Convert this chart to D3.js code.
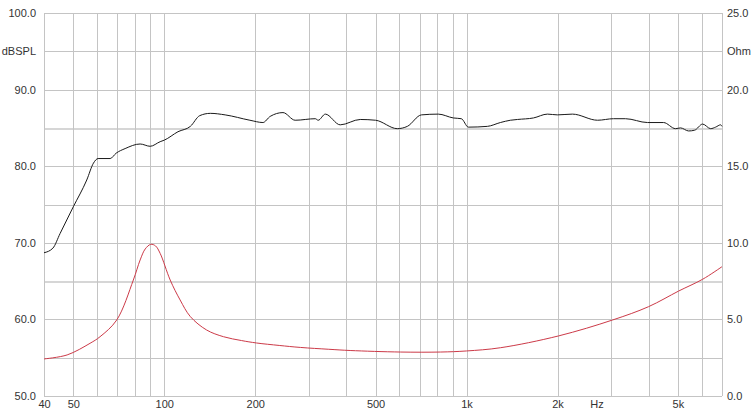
<!DOCTYPE html>
<meta charset="utf-8">
<script src="https://cdn.jsdelivr.net/npm/d3@7"></script>
<style>
  body { margin: 0; background: #fff; }
  text { font-family: "Liberation Sans", Arial, sans-serif; font-size: 11px; fill: #333; }
  .grid { stroke: #c4c4c4; stroke-width: 1; shape-rendering: crispEdges; }
  .grid.wide { stroke: #d6d6d6; stroke-width: 2; }
  path.spl { fill: none; stroke: #1a1a1a; stroke-width: 1; }
  path.imp { fill: none; stroke: #cc3a48; stroke-width: 1; }
</style>
<body>
<script>
  // frequency response (Hz, dBSPL)
  var splFreq = [40, 42.8, 45.2, 50.0, 55.4, 58.3, 60.4, 66.2, 69.3, 74.2, 83.2, 89.8, 96.9, 100,
    111, 122, 131, 142, 159, 192, 212, 224, 247, 271, 316, 323, 341, 382, 445, 500, 590, 637,
    709, 806, 904, 961, 1014, 1172, 1294, 1396, 1473, 1665, 1852, 1998, 2241, 2712, 3064, 3357,
    3970, 4485, 4914, 5105, 5428, 5682, 6040, 6420, 6667, 6928, 7000];
  var splDb = [68.7, 69.3, 71.2, 74.7, 78.2, 80.4, 81.0, 81.0, 81.7, 82.3, 82.9, 82.6, 83.2, 83.4,
    84.5, 85.2, 86.6, 86.9, 86.7, 86.0, 85.7, 86.5, 87.0, 86.0, 86.2, 86.0, 86.8, 85.4, 86.1, 86.0, 84.9, 85.2,
    86.7, 86.8, 86.3, 86.2, 85.1, 85.2, 85.7, 86.0, 86.1, 86.3, 86.8, 86.7, 86.8, 86.0, 86.2, 86.2,
    85.7, 85.7, 84.9, 85.0, 84.6, 84.7, 85.5, 84.9, 85.1, 85.4, 85.2];

  // impedance (Hz, Ohm)
  var impFreq = [40, 47.7, 56.8, 61.3, 69.6, 79, 83.2, 86.5, 90.2, 93.5, 96.9, 104.6, 112.8, 122,
    138, 157, 180, 202, 240, 282, 350, 412, 604, 819, 1000, 1294, 2014, 3040, 4000, 5030, 6040, 7000];
  var impOhm = [2.42, 2.68, 3.44, 3.87, 4.96, 7.57, 8.88, 9.6, 9.9, 9.8, 9.31, 7.57, 6.27, 5.18,
    4.31, 3.87, 3.62, 3.46, 3.3, 3.17, 3.05, 2.97, 2.87, 2.87, 2.94, 3.15, 3.92, 4.96, 5.83, 6.85, 7.62, 8.44];

  var gridFreq = [50, 60, 70, 80, 90, 100, 200, 300, 400, 500, 600, 700, 800, 900,
    1000, 2000, 3000, 4000, 5000, 6000, 7000];
  var freqTicks = [40, 50, 100, 200, 500, 1000, 2000, 5000];
  var freqLabels = ["40", "50", "100", "200", "500", "1k", "2k", "5k"];
  var dbGrid = [50, 55, 60, 65, 70, 75, 80, 85, 90, 95, 100];
  var dbTicks = [50, 60, 70, 80, 90, 100];
  var ohmTicks = [0, 5, 10, 15, 20, 25];

  var width = 754, height = 409;
  var mLeft = 44, mRight = 722, mTop = 13, mBottom = 396;

  var x = d3.scaleLog().domain([40, 7000]).range([mLeft, mRight]);
  var y = d3.scaleLinear().domain([50, 100]).range([mBottom, mTop]);
  var y2 = d3.scaleLinear().domain([0, 25]).range([mBottom, mTop]);

  var svg = d3.select("body").append("svg")
    .attr("width", width)
    .attr("height", height);

  // horizontal grid
  svg.append("g").selectAll("line")
    .data(dbGrid)
    .enter().append("line")
    .attr("class", function (d) { return (d == 65 || d == 85) ? "grid wide" : "grid"; })
    .attr("x1", mLeft).attr("x2", mRight)
    .attr("y1", function (d) { return Math.round(y(d)) + 0.5; })
    .attr("y2", function (d) { return Math.round(y(d)) + 0.5; });

  // vertical grid
  svg.append("g").selectAll("line")
    .data([40].concat(gridFreq))
    .enter().append("line")
    .attr("class", "grid")
    .attr("x1", function (d) { return Math.round(x(d)) + 0.5; })
    .attr("x2", function (d) { return Math.round(x(d)) + 0.5; })
    .attr("y1", mTop).attr("y2", mBottom);

  // left axis labels
  var leftAxis = d3.axisLeft(y).tickValues(dbTicks).tickSize(0).tickPadding(8)
    .tickFormat(d3.format(".1f"));
  var gl = svg.append("g").attr("transform", "translate(" + mLeft + ",0)").call(leftAxis);
  gl.select(".domain").remove();
  svg.append("text").attr("x", 36).attr("y", y(95)).attr("dy", "0.35em")
    .attr("text-anchor", "end").text("dBSPL");

  // right axis labels
  var rightAxis = d3.axisRight(y2).tickValues(ohmTicks).tickSize(0).tickPadding(5)
    .tickFormat(d3.format(".1f"));
  var gr = svg.append("g").attr("transform", "translate(" + mRight + ",0)").call(rightAxis);
  gr.select(".domain").remove();
  svg.append("text").attr("x", mRight + 5).attr("y", y2(22.5)).attr("dy", "0.35em")
    .text("Ohm");

  // frequency labels
  var bottomAxis = d3.axisBottom(x).tickValues(freqTicks).tickSize(0).tickPadding(4)
    .tickFormat(function (d, i) { return freqLabels[i]; });
  var gb = svg.append("g").attr("transform", "translate(0," + mBottom + ")").call(bottomAxis);
  gb.select(".domain").remove();
  svg.append("text").attr("x", x(2700)).attr("y", mBottom + 4).attr("dy", "0.71em")
    .attr("text-anchor", "middle").text("Hz");

  svg.selectAll(".tick text").attr("fill", null)
    .style("font-size", "11px")
    .style("font-family", '"Liberation Sans", Arial, sans-serif');

  // curves
  var splLine = d3.line()
    .x(function (d, i) { return x(splFreq[i]); })
    .y(function (d) { return y(d); })
    .curve(d3.curveMonotoneX);
  svg.append("path").attr("class", "spl").attr("d", splLine(splDb));

  var impLine = d3.line()
    .x(function (d, i) { return x(impFreq[i]); })
    .y(function (d) { return y2(d); })
    .curve(d3.curveCatmullRom.alpha(0.5));
  svg.append("path").attr("class", "imp").attr("d", impLine(impOhm));
</script>
</body>
